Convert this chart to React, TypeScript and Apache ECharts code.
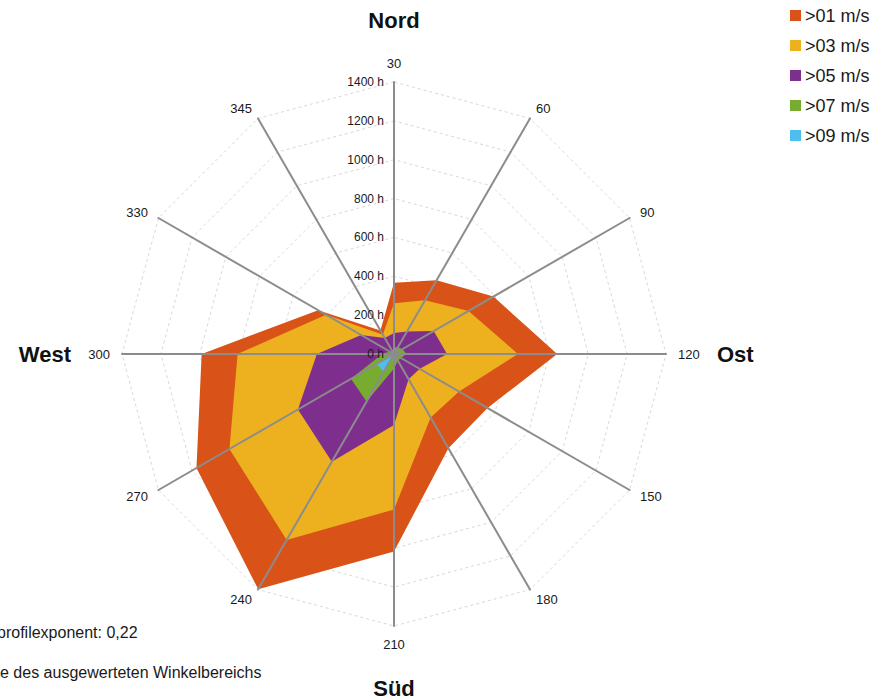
import React, { useEffect, useRef } from "react";
import * as echarts from "echarts";

// Directions in clockwise order starting at the top
const directions = ["30", "60", "90", "120", "150", "180", "210", "240", "270", "300", "330", "345"];
const compass = ["Nord", "Ost", "Süd", "West"];
const seriesNames = [">01 m/s", ">03 m/s", ">05 m/s", ">07 m/s", ">09 m/s"];
const v01 = [367, 438, 591, 840, 556, 560, 1017, 1398, 1174, 990, 451, 140];
const v03 = [261, 319, 443, 638, 387, 377, 800, 1105, 978, 805, 404, 115];
const v05 = [108, 134, 236, 273, 153, 150, 365, 640, 571, 397, 196, 95];
const v07 = [35, 40, 50, 65, 40, 40, 75, 283, 256, 60, 25, 15];
const v09 = [6, 6, 8, 10, 8, 8, 12, 107, 101, 12, 6, 4];
const scaleMax = 1400;
const scaleSplits = 7;
const noteLines = ["profilexponent: 0,22", "e des ausgewerteten Winkelbereichs"];

const colors = ["#D95319", "#EDB120", "#7E2F8E", "#77AC30", "#4DBEEE"];
const FONT = "'Liberation Sans', Arial, sans-serif";

// ECharts radar goes counter-clockwise: keep first item, reverse the rest
const ccw = <T,>(arr: T[]): T[] => [arr[0], ...arr.slice(1).reverse()];

export default function App() {
  const ref = useRef<HTMLDivElement>(null);
  useEffect(() => {
    if (!ref.current) return;
    const chart = echarts.init(ref.current, null, { renderer: "svg" });
    const center = [394, 354];
    const radius = 272;
    const dirsCcw = ccw(directions);
    const indicatorsBase = dirsCcw.map((d) => ({ name: d, min: 0, max: scaleMax }));
    const indicatorsAxes = dirsCcw.map((d, i) =>
      i === 0
        ? {
            name: d,
            min: 0,
            max: scaleMax,
            axisLabel: {
              show: true,
              formatter: (v: number) => `${v} h`,
              fontSize: 12,
              color: "#1a1a1a",
              fontFamily: FONT,
              margin: 10,
            },
          }
        : { name: d, min: 0, max: scaleMax }
    );
    const compassCcw = [compass[0], compass[3], compass[2], compass[1]];
    const all = [v01, v03, v05, v07, v09];
    chart.setOption({
      animation: false,
      legend: {
        orient: "vertical",
        left: 790,
        top: 6,
        padding: 0,
        icon: "rect",
        itemWidth: 11,
        itemHeight: 11,
        itemGap: 11,
        textStyle: { fontSize: 18, color: "#1a1a1a", fontFamily: FONT, lineHeight: 19, padding: [0, 0, 0, -1] },
        data: seriesNames,
      },
      radar: [
        {
          center,
          radius,
          startAngle: 90,
          shape: "polygon",
          splitNumber: scaleSplits,
          indicator: indicatorsBase,
          axisName: { show: false },
          axisLine: { show: false },
          axisTick: { show: false },
          axisLabel: { show: false },
          splitArea: { show: false },
          splitLine: { lineStyle: { color: "#d8d8d8", width: 1, type: [3, 3] } },
          z: 0,
        },
        {
          center,
          radius,
          startAngle: 90,
          shape: "polygon",
          splitNumber: scaleSplits,
          indicator: indicatorsAxes,
          nameGap: 12,
          axisName: { color: "#1a1a1a", fontSize: 13, fontFamily: FONT },
          axisLine: { show: true, lineStyle: { color: "#8c8c8c", width: 2 } },
          axisTick: { show: false },
          axisLabel: { show: false },
          splitArea: { show: false },
          splitLine: { show: false },
          z: 5,
        },
        {
          center,
          radius,
          startAngle: 90,
          shape: "polygon",
          indicator: compassCcw.map((c) => ({ name: c, min: 0, max: scaleMax })),
          nameGap: 51,
          axisName: { color: "#111", fontSize: 22, lineHeight: 22, fontWeight: "bold", fontFamily: FONT },
          axisLine: { show: false },
          axisTick: { show: false },
          axisLabel: { show: false },
          splitArea: { show: false },
          splitLine: { show: false },
          z: 5,
        },
      ],
      series: seriesNames.map((name, i) => ({
        type: "radar",
        name,
        radarIndex: 0,
        symbol: "none",
        lineStyle: { width: 0, color: colors[i] },
        itemStyle: { color: colors[i] },
        areaStyle: { color: colors[i], opacity: 1 },
        emphasis: { disabled: true },
        data: [{ name, value: ccw(all[i]) }],
      })),
      graphic: [
        {
          type: "text",
          left: -3,
          top: 624,
          style: { text: noteLines[0], fontSize: 16, fill: "#1a1a1a", fontFamily: FONT },
        },
        {
          type: "text",
          left: 0,
          top: 664,
          style: { text: noteLines[1], fontSize: 16, fill: "#1a1a1a", fontFamily: FONT },
        },
      ],
    });
    return () => chart.dispose();
  }, []);
  return (
    <div
      ref={ref}
      style={{ position: "fixed", left: 0, top: 0, width: 877, height: 699, background: "#fff" }}
    />
  );
}
